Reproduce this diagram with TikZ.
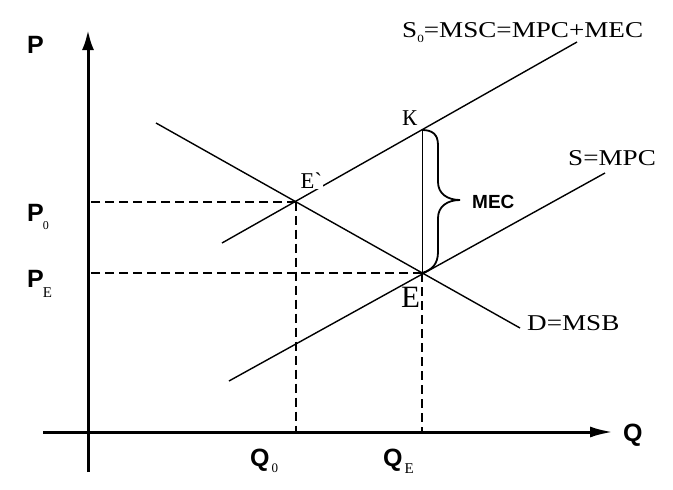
\documentclass[tikz,border=0pt]{standalone}
\usepackage{fontspec}
\setmainfont{Liberation Serif}
\newfontfamily\arialfont{Liberation Sans}
\usetikzlibrary{arrows.meta}
\tikzset{
  axisline/.style={line width=3pt},
  curveline/.style={line width=1.4pt},
  guide/.style={line width=2pt, dash pattern=on 9pt off 5pt},
  serlab/.style={inner sep=0pt, anchor=base west, font=\fontsize{22.6}{26}\selectfont},
  sanslab/.style={inner sep=0pt, anchor=base west, font=\arialfont\bfseries\fontsize{25}{28}\selectfont},
}
\newcommand\widetext[1]{\scalebox{1.2}[1]{#1}}
\newcommand\lowsub[4]{\kern#1\raisebox{-#2}{\rmfamily\mdseries\fontsize{#3}{#3}\selectfont #4}}
\begin{document}
\begin{tikzpicture}[x=1pt,y=-1pt]
\useasboundingbox (0,0) rectangle (673,490);
% key points
\coordinate (O) at (88,432);
\coordinate (ytop) at (88,30);
\coordinate (ybot) at (88,472);
\coordinate (xleft) at (43,432);
\coordinate (xright) at (613,432);
\coordinate (Ep) at (296,201.5);
\coordinate (E) at (422,273);
\coordinate (K) at (422,130);
\coordinate (Da) at (156,123);
\coordinate (Db) at (520,328);
\coordinate (Sa) at (222,243);
\coordinate (Sb) at (577,42);
\coordinate (Ma) at (229,381);
\coordinate (Mb) at (605,173);
% dashed guides
\draw[guide] (Ep) -- (Ep -| O);
\draw[guide] (Ep) -- (Ep |- O);
\draw[guide] (E) -- (E -| O);
\draw[guide] (E) -- (E |- O);
% curves
\draw[curveline] (Da) -- (Db);
\draw[curveline] (Sa) -- (Sb);
\draw[curveline] (Ma) -- (Mb);
\draw[line width=1pt] (K) -- (E);
% brace
\draw[line width=1.8pt] (K) .. controls (432,130) and (438,134) .. (438,145) -- (438,182)
  .. controls (438,194) and (448,200) .. (460,200)
  .. controls (448,200) and (438,206) .. (438,218) -- (438,252)
  .. controls (438,264) and (432,270) .. (E);
% axes
\draw[axisline, -{Latex[length=20pt,width=12pt]}] (ybot) -- (ytop);
\draw[axisline, -{Latex[length=23pt,width=11pt]}] (xleft) -- (xright);
% serif labels
\node[serlab] (s0lab) at (402,37) {\widetext{S\lowsub{0pt}{5pt}{11}{0}=MSC=MPC+MEC}};
\node[serlab] (slab) at (568,165) {\widetext{S=MPC}};
\node[serlab] (dlab) at (527,330) {\widetext{D=MSB}};
\node[serlab] (klab) at (402,125) {К};
\node[serlab, fill=white, inner sep=0.5pt] (eplab) at (300,188) {E\textasciigrave};
\node[serlab, font=\fontsize{31}{34}\selectfont] (elab) at (401,307) {E};
% sans labels
\node[sanslab, font=\arialfont\bfseries\fontsize{19}{22}\selectfont] (meclab) at (472,208) {MEC};
\node[sanslab] (plab) at (27,53) {P};
\node[sanslab] (p0lab) at (27,221) {P\lowsub{-1pt}{8pt}{12}{0}};
\node[sanslab] (pelab) at (27,287) {P\lowsub{-1pt}{10pt}{15}{E}};
\node[sanslab] (qlab) at (623,441) {Q};
\node[sanslab] (q0lab) at (250,466) {Q\lowsub{2pt}{6pt}{13}{0}};
\node[sanslab] (qelab) at (383,466) {Q\lowsub{2pt}{7pt}{15}{E}};
\end{tikzpicture}
\end{document}
